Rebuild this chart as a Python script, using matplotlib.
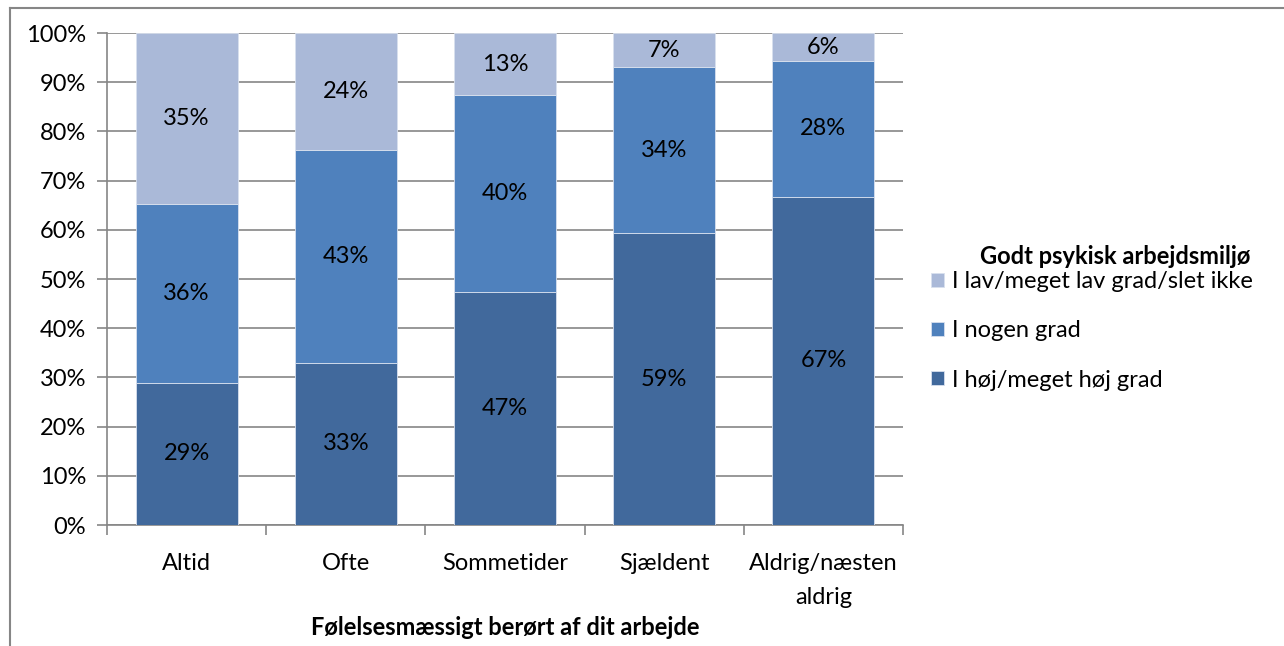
import numpy as np
import matplotlib.pyplot as plt
from matplotlib.lines import Line2D

plt.rcParams['font.family'] = ['Lato', 'DejaVu Sans']

categories = ['Altid', 'Ofte', 'Sommetider', 'Sjældent', 'Aldrig/næsten\naldrig']
series_names = ['I høj/meget høj grad', 'I nogen grad', 'I lav/meget lav grad/slet ikke']
# share of respondents (%), bottom to top
high = [28.9, 33.0, 47.4, 59.3, 66.7]
some = [36.4, 43.2, 39.9, 33.7, 27.6]
low = [34.7, 23.8, 12.7, 7.0, 5.7]
labels_high = ['29%', '33%', '47%', '59%', '67%']
labels_some = ['36%', '43%', '40%', '34%', '28%']
labels_low = ['35%', '24%', '13%', '7%', '6%']
colors = ['#41699c', '#4f81bd', '#aab9d8']

FS = 17

fig = plt.figure(figsize=(12.84, 6.46), dpi=100)
ax = fig.add_axes([107 / 1284, 121 / 646, 796 / 1284, 492 / 646])

x = np.arange(len(categories))
bottom = np.zeros(len(categories))
for vals, labs, name, col in zip([high, some, low], [labels_high, labels_some, labels_low],
                                 series_names, colors):
    bars = ax.bar(x, vals, bottom=bottom, width=0.64, color=col, label=name,
                  edgecolor='#d8e0ee', linewidth=0.6, zorder=3)
    ax.bar_label(bars, labels=labs, label_type='center', fontsize=FS, color='black')
    bottom += np.array(vals)

ax.set_xlim(-0.5, 4.5)
ax.set_ylim(0, 100)
ax.set_yticks(np.arange(0, 101, 10))
ax.set_yticklabels([f'{v}%' for v in range(0, 101, 10)], fontsize=FS)
ax.yaxis.grid(True, color='#868686', linewidth=1.2, zorder=0)

ax.set_xticks(x)
ax.set_xticklabels(categories, fontsize=FS, linespacing=1.75)
ax.set_xticks(np.arange(-0.5, 5, 1), minor=True)
ax.tick_params(axis='x', which='major', length=0, pad=20)
ax.tick_params(axis='x', which='minor', length=7, color='#868686', width=1.2)
ax.tick_params(axis='y', length=7, color='#868686', width=1.2, pad=8)
ax.set_xlabel('Følelsesmæssigt berørt af dit arbejde', fontsize=FS, fontweight='bold', labelpad=6)

for s in ['top', 'right']:
    ax.spines[s].set_visible(False)
for s in ['left', 'bottom']:
    ax.spines[s].set_color('#868686')
    ax.spines[s].set_linewidth(1.2)

handles, labs = ax.get_legend_handles_labels()
leg = fig.legend(handles[::-1], labs[::-1], loc='upper left',
                 bbox_to_anchor=(931 / 1284, 1 - 271 / 646), frameon=False,
                 fontsize=FS, handlelength=0.55, handleheight=0.55, handletextpad=0.35,
                 labelspacing=1.2, borderaxespad=0, borderpad=0)
fig.text(1115 / 1284, 1 - 256 / 646, 'Godt psykisk arbejdsmiljø', fontsize=FS,
         fontweight='bold', ha='center', va='center')

# outer chart frame (partly cut off in the original)
fig.add_artist(Line2D([10 / 1284, 1], [1 - 8 / 646, 1 - 8 / 646], color='#868686', linewidth=1.5))
fig.add_artist(Line2D([10 / 1284, 10 / 1284], [0, 1 - 8 / 646], color='#868686', linewidth=1.5))

fig.savefig('out.png', dpi=100)
